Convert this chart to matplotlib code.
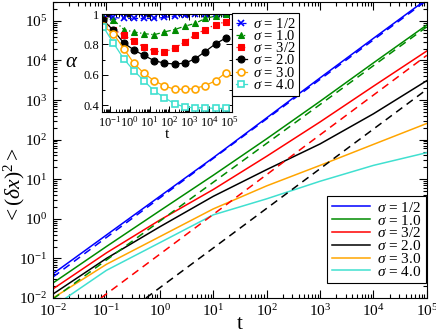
import numpy as np
import matplotlib
matplotlib.use("Agg")
import matplotlib.pyplot as plt
from matplotlib.ticker import LogLocator, FixedLocator, FixedFormatter, MultipleLocator, NullFormatter

plt.rcParams["font.family"] = "Liberation Serif"
plt.rcParams["mathtext.fontset"] = "custom"
plt.rcParams["mathtext.rm"] = "Liberation Serif"
plt.rcParams["mathtext.it"] = "Liberation Serif:italic"

# ---- main panel: mean square displacement, read at each decade of t ----
t_main = [1e-2, 1e-1, 1e0, 1e1, 1e2, 1e3, 1e4, 1e5]
msd_05 = [0.041, 0.39, 3.7, 35, 355, 3630, 36300, 355000]
msd_10 = [0.024, 0.20, 1.6, 12.6, 105, 930, 8700, 79000]
msd_15 = [0.017, 0.138, 0.93, 5.5, 38, 280, 2240, 17400]
msd_20 = [0.0126, 0.10, 0.63, 3.7, 17.5, 78, 450, 3100]
msd_30 = [0.010, 0.071, 0.355, 1.78, 6.8, 22.4, 76, 257]
msd_40 = [0.006, 0.05, 0.25, 1.26, 3.2, 8.9, 22.4, 47]

# dashed asymptotes (start / end points)
fit_t = {"1/2": [1e-2, 1e5], "1.0": [1e-2, 1e5], "3/2": [0.079, 1e5], "2.0": [0.55, 1e5]}
fit_y = {"1/2": [0.034, 3.3e5], "1.0": [0.0095, 71000], "3/2": [0.01, 13500], "2.0": [0.01, 1860]}

# ---- inset: local exponent alpha ----
t_alpha = [0.046, 0.15, 0.5, 1.6, 5.2, 17, 55, 180, 590, 1900, 6300, 2.1e4, 6.8e4]
alpha_05 = [0.987, 0.978, 0.971, 0.971, 0.971, 0.971, 0.978, 0.987, 0.993, 1.0, 1.0, 1.0, 1.0]
alpha_10 = [0.974, 0.962, 0.898, 0.882, 0.871, 0.864, 0.882, 0.898, 0.92, 0.938, 0.971, 0.987, 1.0]
alpha_15 = [0.964, 0.898, 0.86, 0.822, 0.782, 0.756, 0.749, 0.776, 0.816, 0.864, 0.898, 0.931, 0.949]
alpha_20 = [0.96, 0.893, 0.809, 0.764, 0.727, 0.693, 0.676, 0.671, 0.676, 0.704, 0.753, 0.804, 0.842]
alpha_30 = [0.92, 0.871, 0.771, 0.676, 0.609, 0.56, 0.527, 0.504, 0.504, 0.509, 0.529, 0.56, 0.613]
alpha_40 = [0.916, 0.809, 0.704, 0.627, 0.56, 0.493, 0.449, 0.409, 0.387, 0.382, 0.382, 0.378, 0.378]

labels = ["1/2", "1.0", "3/2", "2.0", "3.0", "4.0"]
colors = ["#0000ff", "#008b00", "#ff0000", "#000000", "#ffa500", "#40e0d0"]
msd = [msd_05, msd_10, msd_15, msd_20, msd_30, msd_40]
alphas = [alpha_05, alpha_10, alpha_15, alpha_20, alpha_30, alpha_40]

fig = plt.figure(figsize=(4.36, 3.35), dpi=100)
ax = fig.add_axes([0.1216, 0.1104, 0.8574, 0.8836])

for lab, c, y in zip(labels, colors, msd):
    ax.plot(t_main, y, color=c, lw=1.1, label=r"$\sigma$ = " + lab)
for lab, c in zip(labels[:4], colors[:4]):
    ax.plot(fit_t[lab], fit_y[lab], color=c, lw=1.1, ls=(0, (5, 3.5)))

ax.set_xscale("log"); ax.set_yscale("log")
ax.set_xlim(1e-2, 1e5); ax.set_ylim(1e-2, 3e5)
ax.xaxis.set_major_locator(LogLocator(base=10, numticks=20))
ax.yaxis.set_major_locator(LogLocator(base=10, numticks=20))
ax.xaxis.set_minor_locator(LogLocator(base=10, subs=np.arange(2, 10), numticks=20))
ax.yaxis.set_minor_locator(LogLocator(base=10, subs=np.arange(2, 10), numticks=20))
ax.xaxis.set_minor_formatter(NullFormatter()); ax.yaxis.set_minor_formatter(NullFormatter())
ax.tick_params(which="both", direction="in", top=True, right=True, labelsize=11, width=0.8)
ax.tick_params(which="major", length=6, pad=4)
ax.tick_params(which="minor", length=3)
ax.set_xlabel("t", fontsize=15, labelpad=-3)
ax.set_ylabel(r"$<(\delta x)^2>$", fontsize=15.5)
ax.yaxis.set_label_coords(-0.069, 0.38)
leg = ax.legend(loc="lower right", bbox_to_anchor=(0.997, 0.05), borderaxespad=0, fontsize=11,
                frameon=True, fancybox=False, edgecolor="black", handlelength=2.5,
                handletextpad=0.45, labelspacing=-0.08, borderpad=0.3, framealpha=1)
leg.get_frame().set_linewidth(0.8)

# ---- inset ----
ins = fig.add_axes([0.234, 0.666, 0.298, 0.292])
markers = ["x", "^", "s", "o", "o", "s"]
lss = [(0, (3, 2)), (0, (4, 2, 1, 2)), (0, (1, 2)), "-", "-", "-"]
for lab, c, a, m, ls in zip(labels, colors, alphas, markers, lss):
    filled = lab in ("1/2", "1.0", "3/2", "2.0")
    ins.plot(t_alpha, a, color=c, lw=0.9, ls=ls, marker=m, ms=5 if m != "x" else 4,
             mfc=c if filled else "white", mec=c, mew=1.2 if m == "x" or not filled else 0.8,
             label=r"$\sigma$ = " + lab)
ins.set_xscale("log")
ins.set_xlim(0.04, 1.4e5); ins.set_ylim(0.355, 1.0)
ins.xaxis.set_major_locator(LogLocator(base=10, numticks=20))
ins.xaxis.set_minor_locator(LogLocator(base=10, subs=np.arange(2, 10), numticks=20))
ins.xaxis.set_minor_formatter(NullFormatter())
ins.yaxis.set_major_locator(FixedLocator([0.4, 0.6, 0.8, 1.0]))
ins.yaxis.set_major_formatter(FixedFormatter(["0.4", "0.6", "0.8", "1"]))
ins.yaxis.set_minor_locator(MultipleLocator(0.1))
ins.tick_params(which="both", direction="in", top=True, right=True, labelsize=9, width=0.7, pad=2)
ins.tick_params(which="major", length=4)
ins.tick_params(which="minor", length=2)
ins.set_xlabel("t", fontsize=11, labelpad=-1)
ins.set_ylabel(r"$\alpha$", fontsize=15, rotation=0, va="center")
ins.yaxis.set_label_coords(-0.23, 0.5)
ileg = ins.legend(loc="upper left", bbox_to_anchor=(1.0, 1.01), borderaxespad=0, fontsize=10.5,
                  frameon=True, fancybox=False, edgecolor="black", handlelength=0.8,
                  handletextpad=0.4, labelspacing=-0.12, borderpad=0.25, framealpha=1)
ileg.get_frame().set_linewidth(0.8)

fig.savefig("out.png", dpi=100)
